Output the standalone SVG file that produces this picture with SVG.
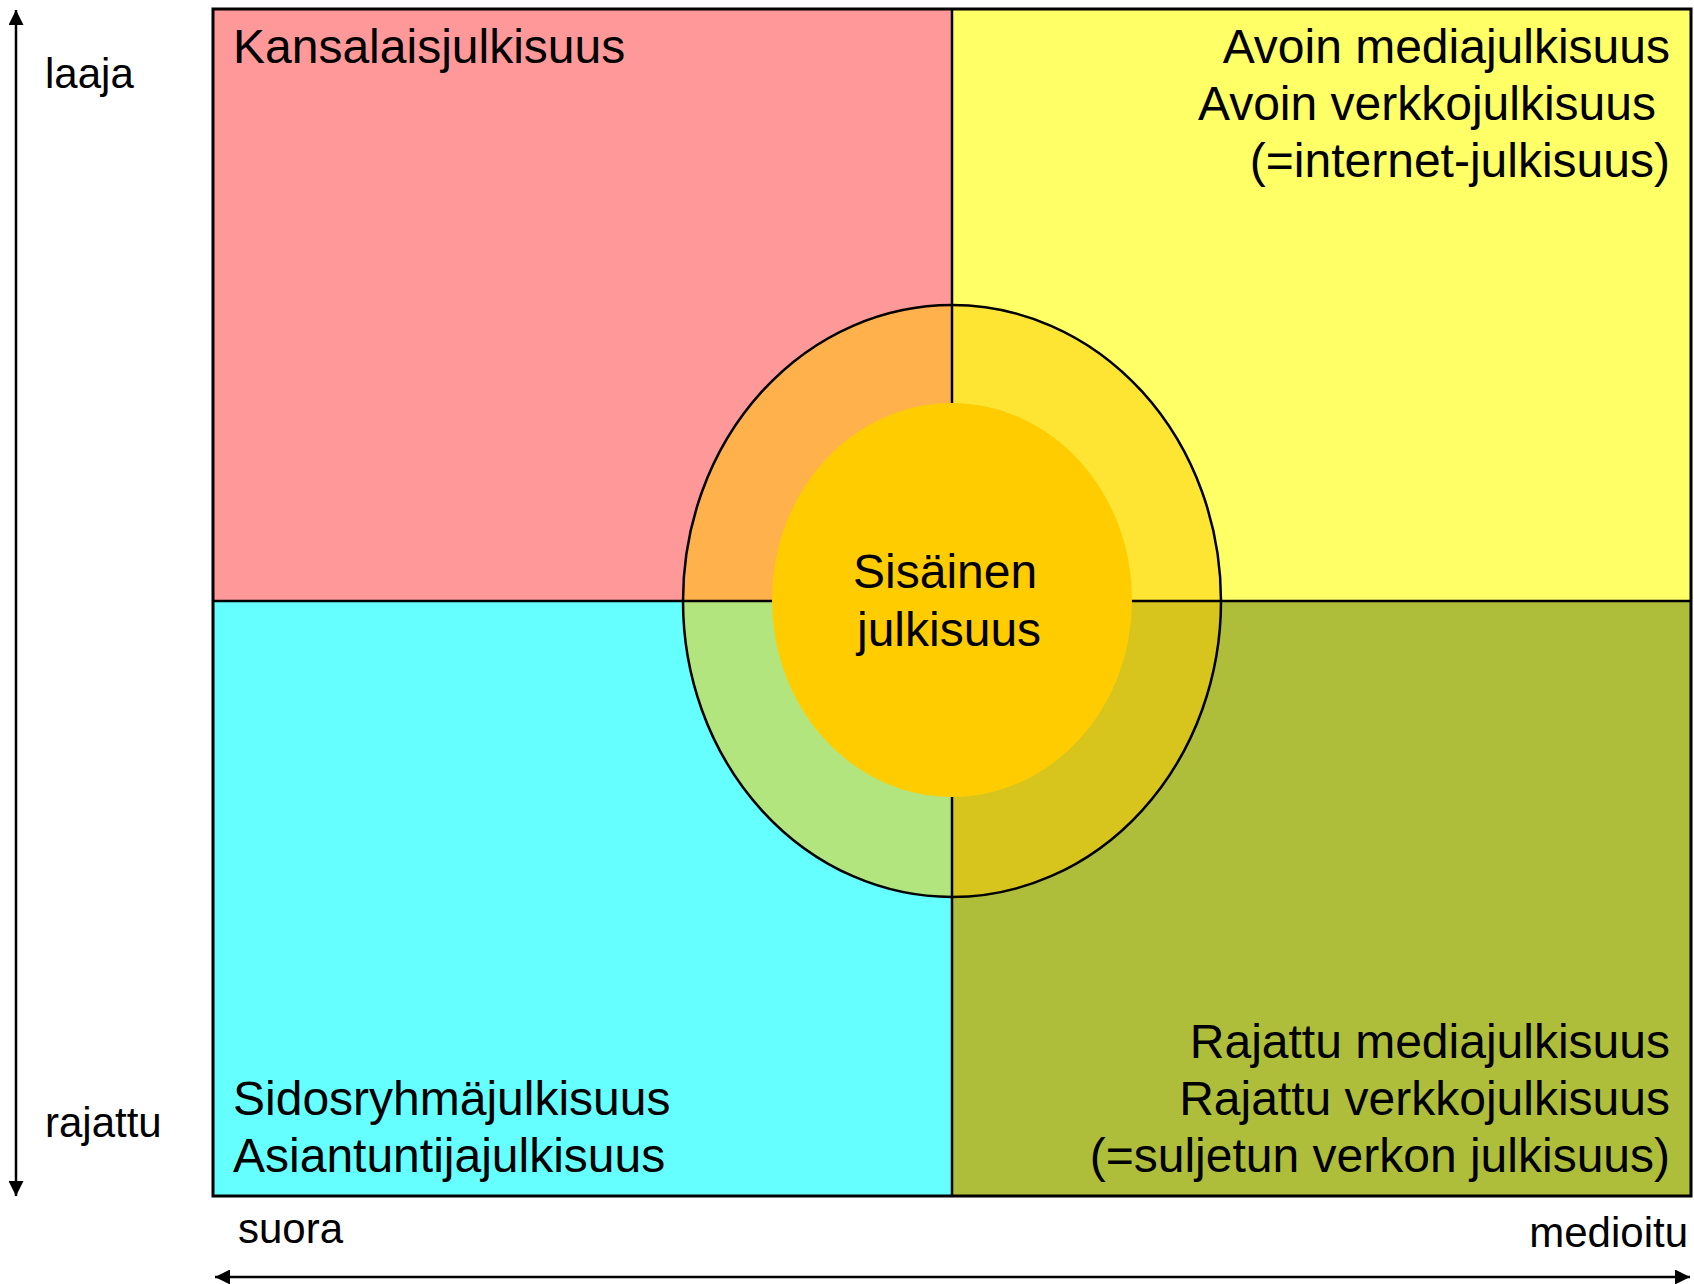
<svg xmlns="http://www.w3.org/2000/svg" width="1694" height="1284" viewBox="0 0 1694 1284">
<style>
text{font-family:"Liberation Sans",Arial,sans-serif;fill:#000}
.q{font-size:48px}
.ax{font-size:42px}
.r{text-anchor:end}
.ln{stroke:#000;stroke-width:2.5;fill:none}
</style>
<defs>
<marker id="ah" viewBox="0 0 10 10" refX="10" refY="5" markerWidth="6" markerHeight="6" orient="auto-start-reverse" markerUnits="strokeWidth">
<path d="M0,0 L10,5 L0,10 z" fill="#000"/>
</marker>
</defs>
<rect width="1694" height="1284" fill="#fff"/>
<g id="q-tl"><rect x="213" y="9" width="739" height="592" fill="#FF9999"/><text class="q" x="233" y="63">Kansalaisjulkisuus</text></g>
<g id="q-tr"><rect x="952" y="9" width="739" height="592" fill="#FFFF66"/></g>
<g id="q-bl"><rect x="213" y="601" width="739" height="595" fill="#66FFFF"/></g>
<g id="q-br"><rect x="952" y="601" width="739" height="595" fill="#AFBE3A"/></g>
<g id="ring">
<ellipse cx="952" cy="601" rx="269" ry="296" fill="#FFCC00" fill-opacity="0.5"/>
</g>
<g id="connectors">
<line class="ln" x1="952" y1="9" x2="952" y2="1196"/>
<line class="ln" x1="213" y1="601" x2="1691" y2="601"/>
<line x1="16" y1="1196" x2="16" y2="10" stroke="#000" stroke-width="2.5" marker-start="url(#ah)" marker-end="url(#ah)"/>
<line x1="215" y1="1277" x2="1690" y2="1277" stroke="#000" stroke-width="2.5" marker-start="url(#ah)" marker-end="url(#ah)"/>
</g>
<g id="outline">
<ellipse cx="952" cy="601" rx="269" ry="296" fill="none" stroke="#000" stroke-width="2.5"/>
<rect x="213" y="9" width="1478" height="1187" fill="none" stroke="#000" stroke-width="3"/>
</g>
<g id="inner">
<ellipse cx="952" cy="600" rx="180" ry="197" fill="#FFCC00"/>
<text class="q" x="853" y="588">Sisäinen</text>
<text class="q" x="857" y="646">julkisuus</text>
</g>
<g id="t-tr">
<text class="q r" x="1670" y="63">Avoin mediajulkisuus</text>
<text class="q r" x="1656" y="120">Avoin verkkojulkisuus</text>
<text class="q r" x="1670" y="177">(=internet-julkisuus)</text>
</g>
<g id="t-bl">
<text class="q" x="233" y="1115">Sidosryhmäjulkisuus</text>
<text class="q" x="233" y="1172">Asiantuntijajulkisuus</text>
</g>
<g id="t-br">
<text class="q r" x="1670" y="1058">Rajattu mediajulkisuus</text>
<text class="q r" x="1670" y="1115">Rajattu verkkojulkisuus</text>
<text class="q r" x="1670" y="1172">(=suljetun verkon julkisuus)</text>
</g>
<g id="axes">
<text class="ax" x="45" y="88">laaja</text>
<text class="ax" x="45" y="1137">rajattu</text>
<text class="ax" x="238" y="1243">suora</text>
<text class="ax r" x="1688" y="1247">medioitu</text>
</g>
</svg>
